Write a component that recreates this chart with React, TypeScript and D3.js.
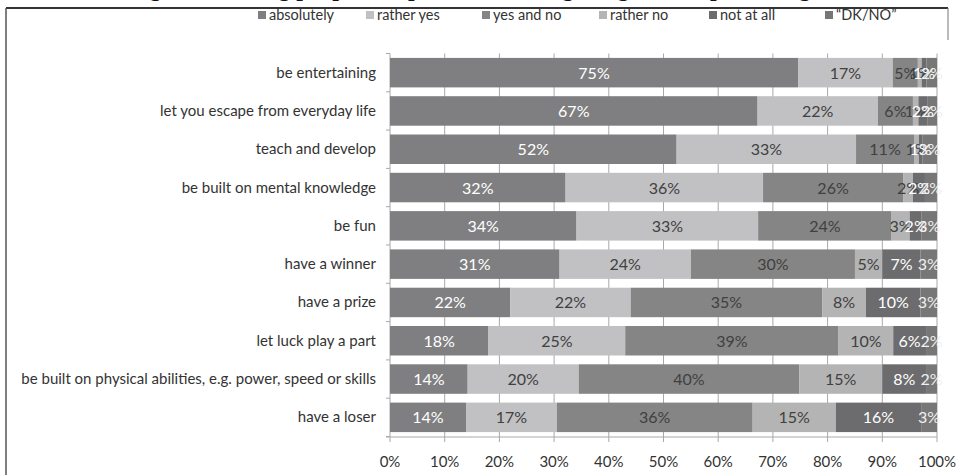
import React from "react";
import * as d3 from "d3";

const categories = [
  "be entertaining",
  "let you escape from everyday life",
  "teach and develop",
  "be built on mental knowledge",
  "be fun",
  "have a winner",
  "have a prize",
  "let luck play a part",
  "be built on physical abilities, e.g. power, speed or skills",
  "have a loser",
];
const seriesNames = ["absolutely", "rather yes", "yes and no", "rather no", "not at all", "\u201cDK/NO\u201d"];
const absolutely = [74.6, 67.2, 52.4, 32.1, 34.1, 31, 22, 18, 14.2, 13.9];
const ratherYes = [17.3, 22.0, 32.8, 36.1, 33.2, 24, 22, 25, 20.3, 16.6];
const yesAndNo = [4.6, 6.4, 10.6, 25.6, 24.4, 30, 35, 39, 40.3, 35.8];
const ratherNo = [0.7, 1.0, 0.9, 1.8, 3.3, 5, 8, 10, 15.2, 15.2];
const notAtAll = [0.9, 1.6, 0.6, 2.2, 2.2, 7, 10, 6, 8.0, 15.6];
const dkNo = [1.9, 1.8, 2.7, 2.2, 2.8, 3, 3, 2, 2.0, 2.9];
const xTicks = [0, 0.1, 0.2, 0.3, 0.4, 0.5, 0.6, 0.7, 0.8, 0.9, 1];
const titleText = "Figure 5. Young people\u2019s expectations of a good game, in percentages";

const colors = ["#7f7f81", "#c1c1c3", "#858585", "#b4b4b4", "#6c6c6e", "#777777"];
const labelColors = ["#ffffff", "#404040", "#404040", "#404040", "#ffffff", "#f0f0f0"];
const legendX = [262, 370, 486, 603, 713, 829];

export default function App() {
  const W = 959, H = 475;
  const x = d3.scaleLinear().domain([0, 1]).range([390, 937]);
  const y = d3.scaleBand().domain(categories).range([53.5, 436.5]).paddingInner(0.23).paddingOuter(0.115);
  const rows = categories.map((c, i) => ({
    cat: c,
    s0: absolutely[i], s1: ratherYes[i], s2: yesAndNo[i], s3: ratherNo[i], s4: notAtAll[i], s5: dkNo[i],
  }));
  const keys = ["s0", "s1", "s2", "s3", "s4", "s5"];
  const stacked = d3.stack<any>().keys(keys).offset(d3.stackOffsetExpand)(rows);
  const step = y.step();
  const font = "Lato, 'Open Sans', sans-serif";
  return (
    <div style={{ position: "absolute", left: 0, top: 0 }}>
      <svg width={W} height={H} style={{ display: "block", background: "#fff" }}>
        <text x={W / 2} y={-4} textAnchor="middle" fontFamily="'Liberation Serif', serif" fontWeight="bold" fontSize={24} fill="#111">
          {titleText}
        </text>
        {/* frame */}
        <line x1={6} x2={948} y1={8} y2={8} stroke="#333" strokeWidth={2} />
        <line x1={6} x2={6} y1={8} y2={H} stroke="#555" strokeWidth={1.5} />
        <line x1={948} x2={948} y1={8} y2={40} stroke="#777" strokeWidth={1} />
        {/* legend */}
        {seriesNames.map((n, i) => (
          <g key={n}>
            <rect x={legendX[i] - 4} y={11} width={8} height={8} fill={colors[i]} />
            <text x={legendX[i] + 7} y={19.5} fontFamily={font} fontSize={14.5} fill="#333">{n}</text>
          </g>
        ))}
        {/* gridlines */}
        {xTicks.map((t) => (
          <line key={"g" + t} x1={x(t)} x2={x(t)} y1={53.5} y2={437} stroke="#a8a8a8" strokeWidth={1} />
        ))}
        {/* y axis ticks */}
        {d3.range(categories.length + 1).map((i) => (
          <line key={"yt" + i} x1={386} x2={390} y1={53.5 + i * step} y2={53.5 + i * step} stroke="#a8a8a8" />
        ))}
        {/* x axis */}
        <line x1={386} x2={937} y1={437} y2={437} stroke="#a8a8a8" />
        {xTicks.map((t) => (
          <g key={"xt" + t}>
            <line x1={x(t)} x2={x(t)} y1={437} y2={442} stroke="#a8a8a8" />
            <text x={x(t)} y={467} textAnchor="middle" fontFamily={font} fontSize={15} fill="#333">
              {Math.round(t * 100) + "%"}
            </text>
          </g>
        ))}
        {/* category labels */}
        {categories.map((c) => (
          <text key={c} x={376} y={(y(c) as number) + y.bandwidth() / 2 + 5} textAnchor="end" fontFamily={font} fontSize={15} fill="#333">
            {c}
          </text>
        ))}
        {/* bars */}
        {stacked.map((s, si) => (
          <g key={s.key}>
            {s.map((d: any) => (
              <rect key={d.data.cat} x={x(d[0])} y={y(d.data.cat)} width={x(d[1]) - x(d[0])} height={y.bandwidth()} fill={colors[si]} />
            ))}
          </g>
        ))}
        {/* data labels */}
        {stacked.map((s, si) => (
          <g key={"l" + s.key}>
            {s.map((d: any) => (
              <text key={d.data.cat} x={(x(d[0]) + x(d[1])) / 2} y={(y(d.data.cat) as number) + y.bandwidth() / 2 + 6}
                textAnchor="middle" fontFamily={font} fontSize={16} fill={labelColors[si]}>
                {Math.round(d.data[s.key]) + "%"}
              </text>
            ))}
          </g>
        ))}
      </svg>
    </div>
  );
}
